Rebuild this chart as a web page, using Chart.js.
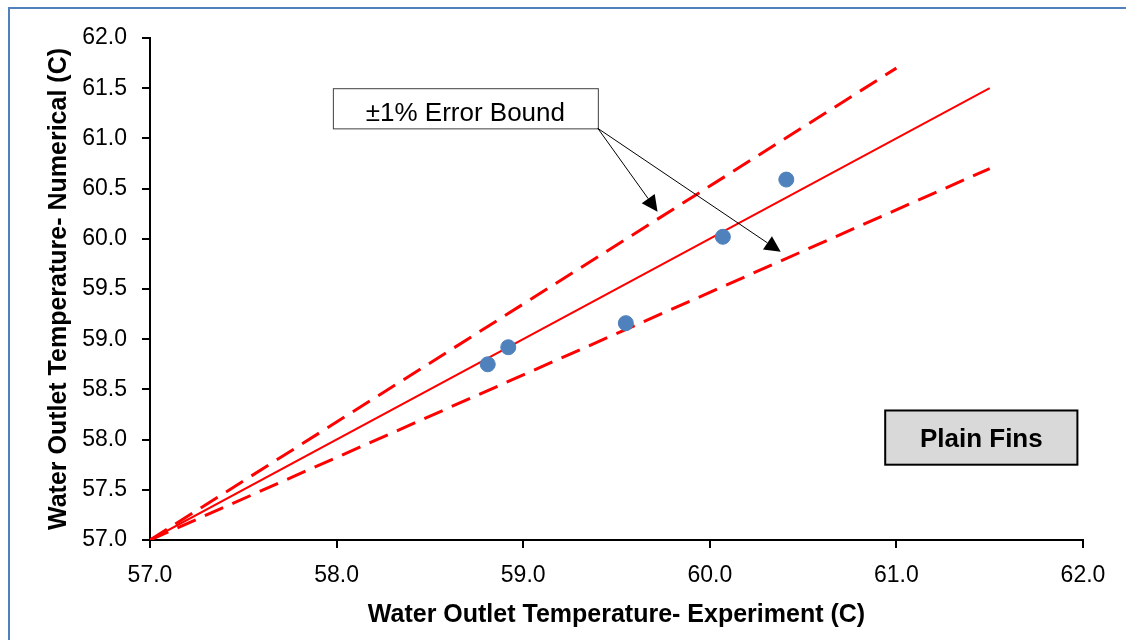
<!DOCTYPE html>
<html><head><meta charset="utf-8">
<script src="https://cdn.jsdelivr.net/npm/chart.js@4/dist/chart.umd.min.js"></script>
<style>html,body{margin:0;padding:0;background:#fff;}#wrap{position:relative;width:1126px;height:640px;}
#frame{position:absolute;left:8px;top:7px;width:1118px;height:633px;border-left:2px solid #4f81bd;border-top:2px solid #4f81bd;box-sizing:border-box;pointer-events:none;}</style>
</head><body><div id="wrap"><canvas id="c" width="1126" height="640"></canvas><div id="frame"></div></div>
<script>
const expX = [58.81, 58.92, 59.55, 60.07, 60.41];
const numY = [58.75, 58.92, 59.16, 60.02, 60.59];
const perfectLineX = [57.0, 61.5];
const perfectLineY = [57.0, 61.5];
const upperLineX = [57.0, 61.0];
const upperLineY = [57.0, 61.7];
const lowerLineX = [57.0, 61.5];
const lowerLineY = [57.0, 60.7];
const axisMin = 57.0, axisMax = 62.0, axisStep = 0.5, xStep = 1.0;
const xTitle = 'Water Outlet Temperature- Experiment (C)';
const yTitle = 'Water Outlet Temperature- Numerical (C)';
const errLabel = '±1% Error Bound';
const caseLabel = 'Plain Fins';

const pts = (xs, ys) => xs.map((x, i) => ({x: x, y: ys[i]}));
const FONT = "'Liberation Sans', 'DejaVu Sans', sans-serif";

const annot = {
  id: 'annot',
  afterDatasetsDraw(chart) {
    const ctx = chart.ctx, xs = chart.scales.x, ys = chart.scales.y;
    const X = v => xs.getPixelForValue(v), Y = v => ys.getPixelForValue(v);
    ctx.save();
    const bx1 = X(57.98), bx2 = X(59.40), by1 = Y(61.50), by2 = Y(61.10);
    ctx.fillStyle = '#fff'; ctx.fillRect(bx1, by1, bx2 - bx1, by2 - by1);
    ctx.strokeStyle = '#404040'; ctx.lineWidth = 1; ctx.strokeRect(bx1 + 0.5, by1 + 0.5, bx2 - bx1, by2 - by1);
    ctx.fillStyle = '#000'; ctx.font = '26px ' + FONT; ctx.textAlign = 'center'; ctx.textBaseline = 'middle';
    ctx.fillText(errLabel, (bx1 + bx2) / 2, (by1 + by2) / 2 + 6);
    const sx = X(59.40), sy = Y(61.10);
    [[59.72, 60.27], [60.38, 59.87]].forEach(([ax, ay]) => {
      const ex = X(ax), ey = Y(ay);
      const ang = Math.atan2(ey - sy, ex - sx);
      const L = 16, W = 8;
      const bxp = ex - L * Math.cos(ang), byp = ey - L * Math.sin(ang);
      ctx.strokeStyle = '#000'; ctx.lineWidth = 1;
      ctx.beginPath(); ctx.moveTo(sx, sy); ctx.lineTo(bxp, byp); ctx.stroke();
      ctx.fillStyle = '#000'; ctx.beginPath();
      ctx.moveTo(ex, ey);
      ctx.lineTo(bxp + W * Math.sin(ang), byp - W * Math.cos(ang));
      ctx.lineTo(bxp - W * Math.sin(ang), byp + W * Math.cos(ang));
      ctx.closePath(); ctx.fill();
    });
    const cx1 = X(60.94), cx2 = X(61.97), cy1 = Y(58.29), cy2 = Y(57.75);
    ctx.fillStyle = '#d9d9d9'; ctx.fillRect(cx1, cy1, cx2 - cx1, cy2 - cy1);
    ctx.strokeStyle = '#000'; ctx.lineWidth = 2; ctx.strokeRect(cx1, cy1, cx2 - cx1, cy2 - cy1);
    ctx.fillStyle = '#000'; ctx.font = 'bold 26px ' + FONT;
    ctx.fillText(caseLabel, (cx1 + cx2) / 2, (cy1 + cy2) / 2 + 2);
    ctx.restore();
  }
};

new Chart(document.getElementById('c'), {
  type: 'scatter',
  data: {
    datasets: [
      {label: 'Upper', data: pts(upperLineX, upperLineY), showLine: true, borderColor: '#ff0000', borderWidth: 3, borderDash: [20, 10], pointRadius: 0, order: 3},
      {label: 'Lower', data: pts(lowerLineX, lowerLineY), showLine: true, borderColor: '#ff0000', borderWidth: 3, borderDash: [20, 10], pointRadius: 0, order: 3},
      {label: 'Perfect', data: pts(perfectLineX, perfectLineY), showLine: true, borderColor: '#ff0000', borderWidth: 2, pointRadius: 0, order: 2},
      {label: 'Data', data: pts(expX, numY), backgroundColor: '#4f81bd', borderColor: '#4f81bd', pointRadius: 7.5, pointHoverRadius: 7.5, order: 1}
    ]
  },
  options: {
    responsive: false, animation: false,
    layout: {padding: {left: 20, right: 43, top: 38, bottom: 10}},
    plugins: {legend: {display: false}, tooltip: {enabled: false}},
    scales: {
      x: {
        type: 'linear', min: axisMin, max: axisMax,
        ticks: {stepSize: xStep, color: '#000', font: {size: 23, family: FONT}, padding: 14, callback: v => v.toFixed(1)},
        grid: {drawOnChartArea: false, color: '#000', tickLength: 8, lineWidth: 2},
        border: {color: '#000', width: 2},
        title: {display: true, text: xTitle, color: '#000', font: {size: 25, weight: 'bold', family: FONT}, padding: {top: 3, bottom: 0}},
        afterFit: s => { s.height = 90; }
      },
      y: {
        type: 'linear', min: axisMin, max: axisMax,
        ticks: {stepSize: axisStep, color: '#000', font: {size: 23, family: FONT}, padding: 15, callback: v => v.toFixed(1)},
        grid: {drawOnChartArea: false, color: '#000', tickLength: 8, lineWidth: 2},
        border: {color: '#000', width: 2},
        title: {display: true, text: yTitle, color: '#000', font: {size: 25, weight: 'bold', family: FONT}, padding: {top: 24, bottom: 0}},
        afterFit: s => { s.width = 130; }
      }
    }
  },
  plugins: [annot]
});
</script></body></html>
